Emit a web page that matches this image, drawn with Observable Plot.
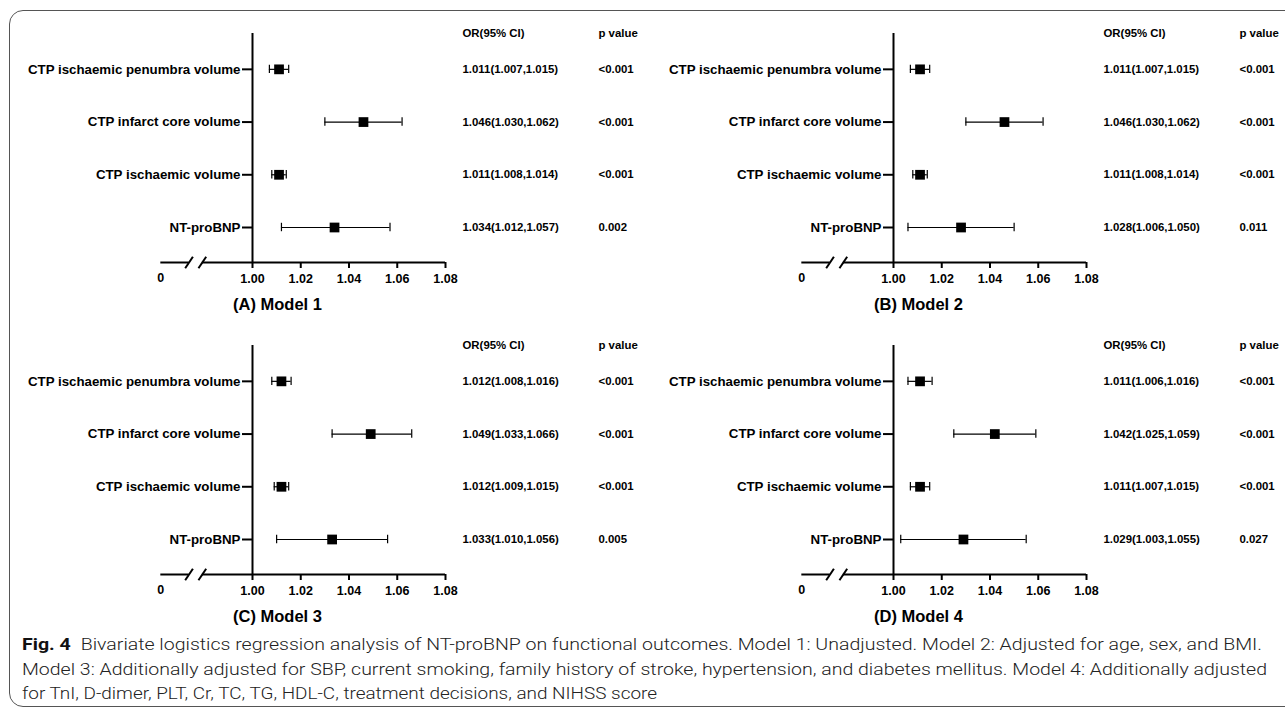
<!DOCTYPE html>
<html><head><meta charset="utf-8">
<script src="https://cdn.jsdelivr.net/npm/d3@7"></script>
<script src="https://cdn.jsdelivr.net/npm/@observablehq/plot@0.6"></script>
<style>
body{margin:0;background:#fff;width:1285px;height:720px;overflow:hidden;position:relative;font-family:"Liberation Sans",Arial,sans-serif;}
#frame{position:absolute;left:9px;top:10px;width:1320px;height:697px;border:1px solid #555;border-radius:14px;box-sizing:border-box;}
.panel{position:absolute;}
.cap{position:absolute;left:22px;white-space:nowrap;font-family:Roboto,"Noto Sans",sans-serif;font-weight:300;font-size:16.5px;color:#222;transform-origin:0 50%;line-height:24px;height:24px;}
.cap b{font-weight:700;color:#111;}
</style></head><body>
<div id="frame"></div>
<div id="panels"></div>
<div id="caption"></div>
<script>
// ---- data ----
const categories = ["CTP ischaemic penumbra volume", "CTP infarct core volume", "CTP ischaemic volume", "NT-proBNP"];
const panelTitles = ["(A) Model 1", "(B) Model 2", "(C) Model 3", "(D) Model 4"];
const xTicks = [1.00, 1.02, 1.04, 1.06, 1.08];
const headerOR = "OR(95% CI)";
const headerP = "p value";

const orModel1 = [1.011, 1.046, 1.011, 1.034];
const loModel1 = [1.007, 1.030, 1.008, 1.012];
const hiModel1 = [1.015, 1.062, 1.014, 1.057];
const pModel1  = ["<0.001", "<0.001", "<0.001", "0.002"];

const orModel2 = [1.011, 1.046, 1.011, 1.028];
const loModel2 = [1.007, 1.030, 1.008, 1.006];
const hiModel2 = [1.015, 1.062, 1.014, 1.050];
const pModel2  = ["<0.001", "<0.001", "<0.001", "0.011"];

const orModel3 = [1.012, 1.049, 1.012, 1.033];
const loModel3 = [1.008, 1.033, 1.009, 1.010];
const hiModel3 = [1.016, 1.066, 1.015, 1.056];
const pModel3  = ["<0.001", "<0.001", "<0.001", "0.005"];

const orModel4 = [1.011, 1.042, 1.011, 1.029];
const loModel4 = [1.006, 1.025, 1.007, 1.003];
const hiModel4 = [1.016, 1.059, 1.015, 1.055];
const pModel4  = ["<0.001", "<0.001", "<0.001", "0.027"];

const captionBold = "Fig. 4";
const captionLines = [
  "Bivariate logistics regression analysis of NT-proBNP on functional outcomes. Model 1: Unadjusted. Model 2: Adjusted for age, sex, and BMI.",
  "Model 3: Additionally adjusted for SBP, current smoking, family history of stroke, hypertension, and diabetes mellitus. Model 4: Additionally adjusted",
  "for TnI, D-dimer, PLT, Cr, TC, TG, HDL-C, treatment decisions, and NIHSS score"
];

// ---- drawing ----
const FONT = "'Liberation Sans', Arial, Helvetica, sans-serif";
// broken axis: the "0" origin is drawn just left of 1.00, with a break between
const zeroAt = 0.962, break1 = 0.9737, break2 = 0.9792;
function panel(title, or, lo, hi, p) {
  const n = categories.length;
  const rows = categories.map((c, i) => ({
    cat: c, y: n - i, or: or[i], lo: lo[i], hi: hi[i], p: p[i],
    label: `${or[i].toFixed(3)}(${lo[i].toFixed(3)},${hi[i].toFixed(3)})`
  }));
  const yMin = 0.336, yMax = 4.68;
  const axisSegments = [{x1: zeroAt, x2: break1}, {x1: break2, x2: 1.08}];
  const breaks = [break1, break2];
  return Plot.plot({
    width: 642, height: 312,
    marginTop: 33, marginBottom: 50, marginLeft: 252, marginRight: 197,
    style: {background: "none", overflow: "visible", fontFamily: FONT, fontWeight: "bold", color: "#000"},
    x: {domain: [1.00, 1.08]},
    y: {domain: [yMin, yMax]},
    marks: [
      Plot.ruleY(axisSegments, {x1: "x1", x2: "x2", y: yMin, stroke: "#000", strokeWidth: 2}),
      Plot.link(breaks, {x1: d => d - 0.0016, x2: d => d + 0.0016, y1: yMin - 0.11, y2: yMin + 0.11, stroke: "#000", strokeWidth: 2}),
      Plot.ruleX([1], {y1: yMin, y2: yMax, stroke: "#000", strokeWidth: 2}),
      Plot.axisX({ticks: xTicks, tickSize: 6, tickPadding: 6, strokeWidth: 2, tickFormat: d => d.toFixed(2), fontSize: 12.5, label: null}),
      Plot.axisX({ticks: [zeroAt], tickSize: 0, tickPadding: 11, tickFormat: () => "0", fontSize: 12.5, label: null}),
      Plot.axisY({ticks: rows.map(d => d.y), tickSize: 10, tickPadding: 2, strokeWidth: 2, tickFormat: v => categories[n - v], fontSize: 13.3, label: null}),
      Plot.ruleY(rows, {y: "y", x1: "lo", x2: "hi", stroke: "#000", strokeWidth: 1.2}),
      Plot.ruleX(rows, {x: "lo", y1: d => d.y - 0.08, y2: d => d.y + 0.08, stroke: "#000", strokeWidth: 1.2}),
      Plot.ruleX(rows, {x: "hi", y1: d => d.y - 0.08, y2: d => d.y + 0.08, stroke: "#000", strokeWidth: 1.2}),
      Plot.dot(rows, {x: "or", y: "y", symbol: "square", r: 5.5, fill: "#000", stroke: null}),
      Plot.text([headerOR], {y: yMax, frameAnchor: "right", dx: 17, textAnchor: "start", fontSize: 11.4, text: d => d}),
      Plot.text([headerP], {y: yMax, frameAnchor: "right", dx: 153, textAnchor: "start", fontSize: 11.4, text: d => d}),
      Plot.text(rows, {y: "y", text: "label", frameAnchor: "right", dx: 17, textAnchor: "start", fontSize: 11.4}),
      Plot.text(rows, {y: "y", text: "p", frameAnchor: "right", dx: 153, textAnchor: "start", fontSize: 11.4}),
      Plot.text([title], {frameAnchor: "bottom-left", dx: 25, dy: 47, textAnchor: "middle", fontSize: 16.5, text: d => d})
    ]
  });
}

const models = [
  [orModel1, loModel1, hiModel1, pModel1],
  [orModel2, loModel2, hiModel2, pModel2],
  [orModel3, loModel3, hiModel3, pModel3],
  [orModel4, loModel4, hiModel4, pModel4]
];
const offsets = [[0, 0], [641, 0], [0, 312], [641, 312]];
const holder = document.getElementById("panels");
models.forEach((m, i) => {
  const div = document.createElement("div");
  div.className = "panel";
  div.style.left = offsets[i][0] + "px";
  div.style.top = offsets[i][1] + "px";
  div.appendChild(panel(panelTitles[i], ...m));
  holder.appendChild(div);
});

// caption
const capHolder = document.getElementById("caption");
const lineCenters = [645, 670, 694];
const lineEnds = [1262, 1267, 657];
const capEls = captionLines.map((t, i) => {
  const d = document.createElement("div");
  d.className = "cap";
  d.style.top = (lineCenters[i] - 12) + "px";
  if (i === 0) {
    const b = document.createElement("b");
    b.textContent = captionBold;
    d.appendChild(b);
    d.appendChild(document.createTextNode("\u2002" + t));
  } else {
    d.textContent = t;
  }
  capHolder.appendChild(d);
  return d;
});
function fit() {
  capEls.forEach((d, i) => {
    d.style.transform = "none";
    const w = d.getBoundingClientRect().width;
    const target = lineEnds[i] - 22;
    d.style.transform = `scaleX(${target / w})`;
  });
}
fit();
if (document.fonts && document.fonts.ready) document.fonts.ready.then(fit);
</script>
</body></html>
